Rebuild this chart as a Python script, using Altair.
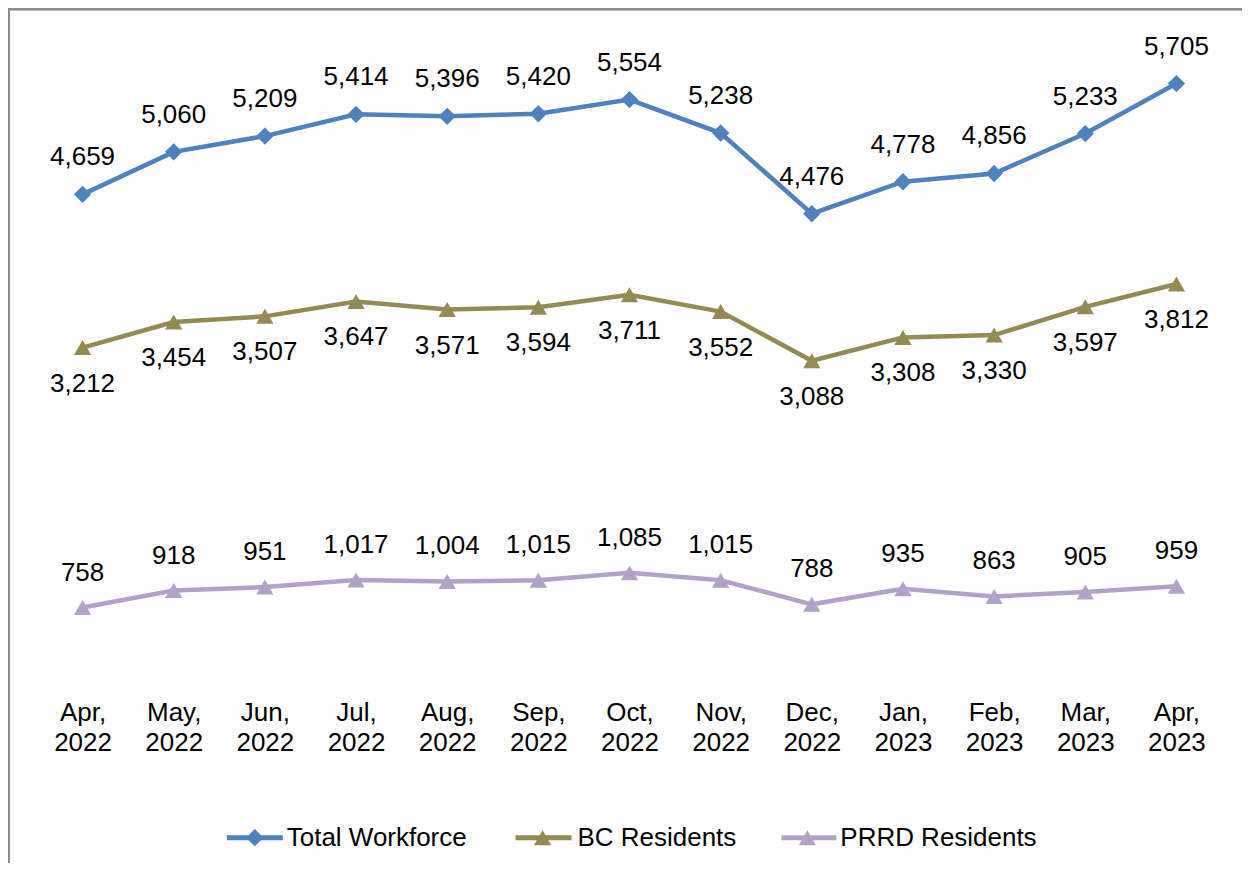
import altair as alt
import pandas as pd

months = ["Apr, 2022", "May, 2022", "Jun, 2022", "Jul, 2022", "Aug, 2022", "Sep, 2022",
          "Oct, 2022", "Nov, 2022", "Dec, 2022", "Jan, 2023", "Feb, 2023", "Mar, 2023", "Apr, 2023"]
total_workforce = [4659, 5060, 5209, 5414, 5396, 5420, 5554, 5238, 4476, 4778, 4856, 5233, 5705]
bc_residents = [3212, 3454, 3507, 3647, 3571, 3594, 3711, 3552, 3088, 3308, 3330, 3597, 3812]
prrd_residents = [758, 918, 951, 1017, 1004, 1015, 1085, 1015, 788, 935, 863, 905, 959]

series_names = ["Total Workforce", "BC Residents", "PRRD Residents"]
series_colors = ["#4F81BD", "#948A54", "#B3A2C7"]
series_shapes = ["diamond", "triangle-up", "triangle-up"]

rows = []
for name, vals in zip(series_names, [total_workforce, bc_residents, prrd_residents]):
    for m, v in zip(months, vals):
        rows.append({"month": m, "series": name, "value": v})
df = pd.DataFrame(rows)

FONT = "Liberation Sans"
FS = 26
W, H = 1186, 636

color = alt.Color("series:N", scale=alt.Scale(domain=series_names, range=series_colors), legend=None)
shape = alt.Shape("series:N", scale=alt.Scale(domain=series_names, range=series_shapes), legend=None)

x = alt.X("month:N", sort=months,
          scale=alt.Scale(type="point", padding=0.5),
          axis=alt.Axis(title=None, labelAngle=0, domain=False, ticks=False, grid=False,
                        labelExpr="split(datum.label, ' ')",
                        labelFont=FONT, labelFontSize=FS, labelColor="black",
                        labelPadding=12, labelLineHeight=30))
y = alt.Y("value:Q", scale=alt.Scale(domain=[0, 6000], nice=False), axis=None)

base = alt.Chart(df).encode(x=x, y=y)

lines = base.mark_line(strokeWidth=4.5).encode(color=color)
points = base.mark_point(filled=True, size=300, opacity=1).encode(color=color, shape=shape)

def labels(name, dy):
    return base.transform_filter(alt.datum.series == name).mark_text(
        font=FONT, fontSize=FS, color="black", dy=dy, baseline="middle", align="center"
    ).encode(text=alt.Text("value:Q", format=","))

lab_total = labels("Total Workforce", -37)
lab_bc = labels("BC Residents", 36)
lab_prrd = labels("PRRD Residents", -35)

main = alt.layer(lines, points, lab_total, lab_bc, lab_prrd)

# Legend built from the series names
leg_df = pd.DataFrame({
    "series": series_names,
    "x1": [190, 479, 745],
    "x2": [246, 535, 800],
    "mx": [218, 506, 771],
    "tx": [250, 541, 804],
})
LEG_Y = 786
leg_base = alt.Chart(leg_df)
leg_rules = leg_base.mark_rule(strokeWidth=5).encode(
    x=alt.X("x1:Q", scale=None, axis=None), x2="x2:Q", y=alt.value(LEG_Y), color=color)
leg_pts = leg_base.mark_point(filled=True, size=300, opacity=1).encode(
    x=alt.X("mx:Q", scale=None, axis=None), y=alt.value(LEG_Y), color=color, shape=shape)
leg_txt = leg_base.mark_text(font=FONT, fontSize=FS, color="black", align="left", baseline="middle").encode(
    x=alt.X("tx:Q", scale=None, axis=None), y=alt.value(LEG_Y), text="series:N")

# Chart border (top and left edges visible in the reference)
border_top = alt.Chart(leg_df).mark_rule(color="#8C8C8C", strokeWidth=2).encode(
    x=alt.value(-28), x2=alt.value(1300), y=alt.value(-43))
border_left = alt.Chart(leg_df).mark_rule(color="#8C8C8C", strokeWidth=2).encode(
    x=alt.value(-28), y=alt.value(-44), y2=alt.value(900))

chart = alt.layer(
    border_top, border_left,
    main,
    leg_rules, leg_pts, leg_txt,
).resolve_scale(x="independent").properties(
    width=W, height=H,
    autosize=alt.AutoSizeParams(type="none"),
    padding={"left": 29, "top": 44, "right": 20, "bottom": 175},
).configure(background="white").configure_view(stroke=None)

chart.save("out.html", embed_options={"renderer": "svg", "actions": False})
